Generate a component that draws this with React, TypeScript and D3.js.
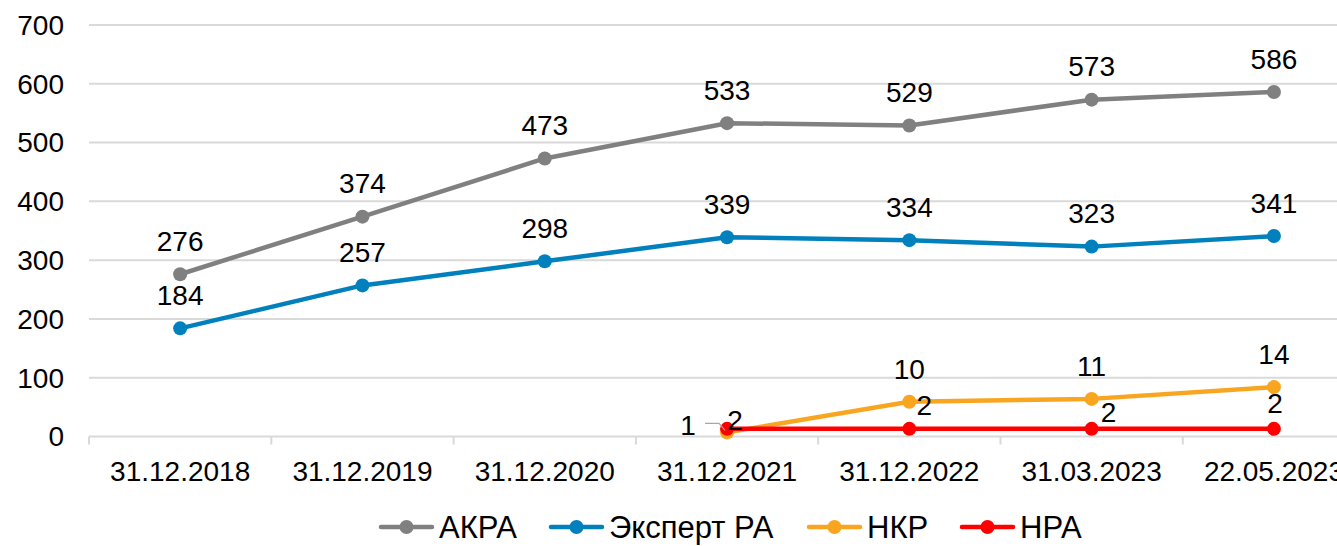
import React, { useEffect, useRef } from "react";
import * as d3 from "d3";

const categories = ["31.12.2018", "31.12.2019", "31.12.2020", "31.12.2021", "31.12.2022", "31.03.2023", "22.05.2023"];
const yTicks = [0, 100, 200, 300, 400, 500, 600, 700];

const akraValues = [276, 374, 473, 533, 529, 573, 586];
const expertValues = [184, 257, 298, 339, 334, 323, 341];
const nkrPlotted = [null, null, null, 7, 59, 64, 84];
const nkrLabels = [null, null, null, 1, 10, 11, 14];
const nraPlotted = [null, null, null, 13, 13, 13, 13];
const nraLabels = [null, null, null, 2, 2, 2, 2];

type Series = {
  name: string;
  color: string;
  plotted: (number | null)[];
  labels: (number | null)[];
  offsets: [number, number][];
};

const up: [number, number] = [0, -33];

const series: Series[] = [
  { name: "АКРА", color: "#808080", plotted: akraValues, labels: akraValues, offsets: akraValues.map(() => up) },
  { name: "Эксперт РА", color: "#0080BC", plotted: expertValues, labels: expertValues, offsets: expertValues.map(() => up) },
  {
    name: "НКР", color: "#F9A51F", plotted: nkrPlotted, labels: nkrLabels,
    offsets: [up, up, up, [-39, -7], up, up, up],
  },
  {
    name: "НРА", color: "#FF0000", plotted: nraPlotted, labels: nraLabels,
    offsets: [up, up, up, [8, -9], [15, -24], [17, -17], [1, -26]],
  },
];

export default function App() {
  const ref = useRef<SVGSVGElement>(null);

  useEffect(() => {
    const width = 1337;
    const height = 546;
    const margin = { top: 25, left: 89, bottom: 109.5 };
    const svg = d3.select(ref.current);
    svg.selectAll("*").remove();

    const plotBottom = height - margin.bottom;
    const step = 182.3;
    const x = d3.scaleBand().domain(categories).range([margin.left, margin.left + step * categories.length]);
    const y = d3.scaleLinear().domain([0, 700]).range([plotBottom, margin.top]);

    const font = "Liberation Sans, Arial, sans-serif";
    const fs = "28px";

    // grid
    svg.append("g")
      .selectAll("line")
      .data(yTicks)
      .enter()
      .append("line")
      .attr("x1", margin.left)
      .attr("x2", width)
      .attr("y1", (d) => y(d))
      .attr("y2", (d) => y(d))
      .attr("stroke", "#d9d9d9")
      .attr("stroke-width", 2);

    // category ticks
    const edges = categories.map((c) => x(c)!).concat([margin.left + step * categories.length]);
    svg.append("g")
      .selectAll("line")
      .data(edges)
      .enter()
      .append("line")
      .attr("x1", (d) => d)
      .attr("x2", (d) => d)
      .attr("y1", plotBottom)
      .attr("y2", plotBottom + 8)
      .attr("stroke", "#d9d9d9")
      .attr("stroke-width", 2);

    // y tick labels
    svg.append("g")
      .selectAll("text")
      .data(yTicks)
      .enter()
      .append("text")
      .attr("x", 64)
      .attr("y", (d) => y(d))
      .attr("dy", "0.35em")
      .attr("text-anchor", "end")
      .style("font-family", font)
      .style("font-size", fs)
      .attr("fill", "#000")
      .text((d) => d);

    // x tick labels (the last one runs past the edge, as in the original)
    svg.append("g")
      .selectAll("text")
      .data(categories)
      .enter()
      .append("text")
      .attr("x", (d) => x(d)! + x.bandwidth() / 2)
      .attr("y", plotBottom + 35)
      .attr("dy", "0.35em")
      .attr("text-anchor", "middle")
      .style("font-family", font)
      .style("font-size", fs)
      .attr("fill", "#000")
      .text((d) => d);

    const cx = (i: number) => x(categories[i])! + x.bandwidth() / 2;

    series.forEach((s) => {
      const pts = s.plotted
        .map((v, i) => ({ v, i }))
        .filter((p) => p.v !== null) as { v: number; i: number }[];

      const line = d3.line<{ v: number; i: number }>()
        .x((d) => cx(d.i))
        .y((d) => y(d.v));

      svg.append("path")
        .datum(pts)
        .attr("fill", "none")
        .attr("stroke", s.color)
        .attr("stroke-width", 4.5)
        .attr("stroke-linejoin", "round")
        .attr("d", line);

      svg.append("g")
        .selectAll("circle")
        .data(pts)
        .enter()
        .append("circle")
        .attr("cx", (d) => cx(d.i))
        .attr("cy", (d) => y(d.v))
        .attr("r", 7)
        .attr("fill", s.color);
    });

    // leader line for НКР 31.12.2021 label
    const lx = cx(3);
    const ly = y(nkrPlotted[3]!);
    svg.append("path")
      .attr("d", `M${lx - 22},${ly - 9} L${lx - 8},${ly - 9} L${lx - 2},${ly - 2}`)
      .attr("fill", "none")
      .attr("stroke", "#a6a6a6")
      .attr("stroke-width", 1.2);

    series.forEach((s) => {
      svg.append("g")
        .selectAll("text")
        .data(s.plotted.map((v, i) => ({ v, i, label: s.labels[i], off: s.offsets[i] })).filter((p) => p.v !== null))
        .enter()
        .append("text")
        .attr("x", (d) => cx(d.i) + d.off[0])
        .attr("y", (d) => y(d.v!) + d.off[1])
        .attr("dy", "0.35em")
        .attr("text-anchor", "middle")
        .style("font-family", font)
        .style("font-size", fs)
        .attr("fill", "#000")
        .text((d) => d.label as number);
    });

    // legend
    const legendY = 527;
    const legendX = [379, 549, 807, 960];
    series.forEach((s, i) => {
      const g = svg.append("g").attr("transform", `translate(${legendX[i]},${legendY})`);
      g.append("line").attr("x1", 2).attr("x2", 53).attr("y1", 0).attr("y2", 0)
        .attr("stroke", s.color).attr("stroke-width", 4.5).attr("stroke-linecap", "round");
      g.append("circle").attr("cx", 27.5).attr("cy", 0).attr("r", 7).attr("fill", s.color);
      g.append("text").attr("x", 60).attr("y", 0).attr("dy", "0.35em")
        .style("font-family", font).style("font-size", "31px").attr("fill", "#000")
        .text(s.name);
    });
  }, []);

  return (
    <div style={{ position: "absolute", left: 0, top: 0 }}>
      <svg ref={ref} width={1337} height={546} style={{ display: "block", background: "#fff" }} />
    </div>
  );
}
